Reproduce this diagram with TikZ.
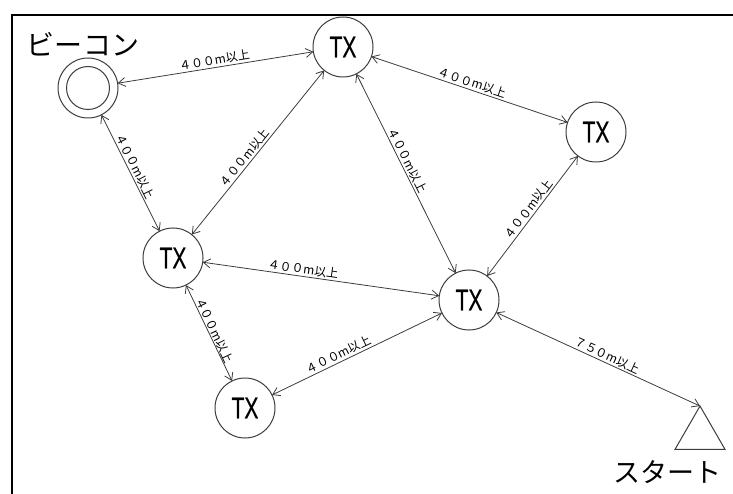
\documentclass[tikz,border=0pt]{standalone}
\usepackage{fontspec}
\newfontfamily\jpfont{Noto Sans CJK JP}
\newfontfamily\txfont[FakeStretch=0.7,FakeBold=0.6]{Liberation Sans}
\usetikzlibrary{arrows.meta,shapes.geometric}
\definecolor{linegray}{HTML}{3C3C3C}
\tikzset{
	station/.style={circle, draw=linegray, line width=1pt, minimum size=60pt, inner sep=0pt, outer sep=0pt, font=\txfont\fontsize{30}{30}\selectfont},
	link/.style={<->, >={Straight Barb[length=7pt,width=9pt]}, draw=linegray, line width=0.8pt},
	dist/.style={sloped, above, inner sep=1.5pt, font=\jpfont\fontsize{12}{12}\selectfont}
}

\begin{document}
\begin{tikzpicture}[x=1pt, y=-1pt]
	\useasboundingbox (0,0) rectangle (733,494);
	\draw[line width=2.5pt] (12,494) -- (12,15) -- (733,15);
	\node[station] (beacon) at (88,88) {};
	\draw[draw=linegray, line width=1pt] (beacon.center) circle[radius=21.5];
	\node[font=\jpfont\fontsize{28}{28}\selectfont] (beaconlabel) at (83,44) {ビーコン};
	\node[station] (txN) at (343,47) {TX};
	\node[station] (txE) at (596,132) {TX};
	\node[station] (txW) at (173,258) {TX};
	\node[station] (txC) at (469,300) {TX};
	\node[station] (txS) at (245,408) {TX};
	\node[regular polygon, regular polygon sides=3, draw=linegray, line width=1pt, minimum size=57.7pt, inner sep=0pt, outer sep=0pt] (start) at (700,434.9) {};
	\node[font=\jpfont\fontsize{27}{27}\selectfont] (startlabel) at (667,472) {スタート};
	\draw[link] (beacon) -- (txN) node[dist, midway]{４００m以上};
	\draw[link] (beacon) -- (txW) node[dist, pos=0.47]{４００m以上};
	\draw[link] (txW) -- (txN) node[dist, pos=0.44]{４００m以上};
	\draw[link] (txN) -- (txE) node[dist, midway]{４００m以上};
	\draw[link] (txN) -- (txC) node[dist, pos=0.45]{４００m以上};
	\draw[link] (txC) -- (txE) node[dist, pos=0.52]{４００m以上};
	\draw[link] (txW) -- (txC) node[dist, pos=0.42]{４００m以上};
	\draw[link] (txW) -- (txS) node[dist, midway, inner sep=0.5pt]{４００m以上};
	\draw[link] (txS) -- (txC) node[dist, pos=0.41]{４００m以上};
	\draw[link] (txC) -- (start.corner 1) node[dist, pos=0.53]{７５０m以上};
\end{tikzpicture}
\end{document}
